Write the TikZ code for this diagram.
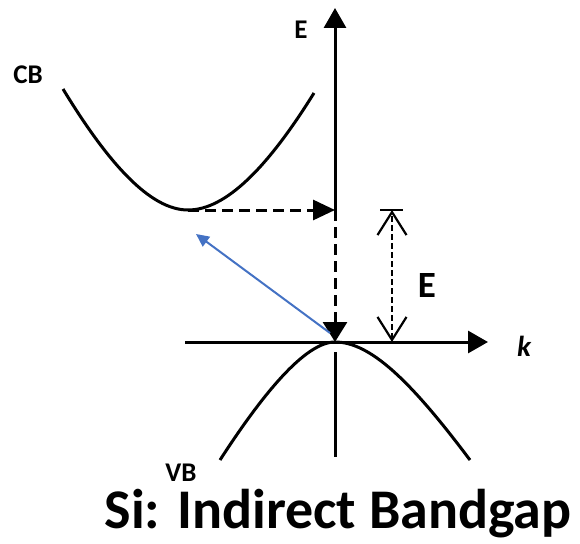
\documentclass[tikz,border=0pt]{standalone}
\usepackage{fontspec}
\setmainfont{Carlito}
\usetikzlibrary{arrows.meta,positioning}
\definecolor{PhotonBlue}{HTML}{4472C4}
\tikzset{
  axis/.style={line width=3pt,-{Triangle[length=20pt,width=22pt]}},
  band/.style={line width=3pt},
  dashline/.style={line width=3pt,dash pattern=on 11pt off 6pt},
  gapline/.style={line width=2.2pt,dash pattern=on 6pt off 3pt,
                  {Straight Barb[length=23pt,width=29pt,line width=2.2pt]}-{Straight Barb[length=23pt,width=29pt,line width=2.2pt]}},
  lbl/.style={font=\fontsize{27}{28}\selectfont\bfseries,inner sep=0pt},
}

\begin{document}
\begin{tikzpicture}[x=1pt,y=-1pt]
  \useasboundingbox (0,0) rectangle (580,543);

  % points of the diagram
  \coordinate (O)     at (335,342);
  \coordinate (Etop)  at (335,8);
  \coordinate (Elow)  at (335,457);
  \coordinate (Egap)  at (335,352);
  \coordinate (kbeg)  at (185,342);
  \coordinate (kend)  at (488,342);
  \coordinate (cbmin) at (188,210);
  \coordinate (cbax)  at (335,210);
  \coordinate (gapt)  at (392,210);
  \coordinate (gapb)  at (392,342);
  \coordinate (kick)  at (196,234);
  \coordinate (vbtop) at (330,333);

  % axes
  \draw[axis] (cbax) -- (Etop);
  \draw[band] (Egap) -- (Elow);
  \draw[axis] (kbeg) -- (kend);

  % conduction band
  \draw[band] (63,89) .. controls (108,163) and (150,210) .. (cbmin)
                      .. controls (226,210) and (268,167) .. (314,93);
  % valence band
  \draw[band] (220,460) .. controls (262,395) and (305,342) .. (O)
                        .. controls (370,342) and (410,380) .. (470,460);

  % minimum of CB projected on the E axis
  \draw[dashline,-{Triangle[length=22pt,width=20pt]}] (cbmin) -- (cbax);
  \draw[dashline,-{Triangle[length=20pt,width=24pt]}] (cbax) -- (O);

  % band gap
  \draw[line width=2.5pt] (380,210) -- (403,210);
  \draw[gapline] (gapb) -- (gapt);

  % phonon assisted transition
  \draw[PhotonBlue,line width=2pt,-{Triangle[length=13pt,width=12pt]}] (vbtop) -- (kick);

  % labels
  \node[lbl] (lE) at (301,30) {E};
  \node[lbl] (lCB) at (28,75) {CB};
  \node[lbl] (lVB) at (181,473) {VB};
  \node[lbl,font=\fontsize{37}{40}\selectfont\bfseries] (lgap) at (427,285) {E};
  \node[lbl,font=\fontsize{29}{30}\selectfont\bfseries\itshape] (lk) at (524,346) {k};
  \node[inner sep=0pt,anchor=base,font=\fontsize{56}{60}\selectfont\bfseries] (title)
    at (338,528) {Si: Indirect Bandgap};
\end{tikzpicture}
\end{document}
